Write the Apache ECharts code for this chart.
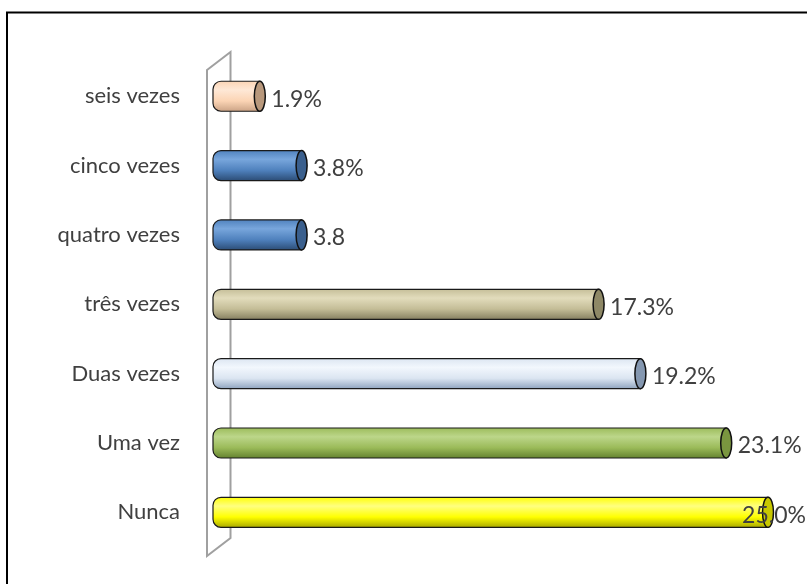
<!DOCTYPE html>
<html>
<head>
    <meta charset="utf-8">
    <title>ECharts</title>
    <script src="https://cdn.jsdelivr.net/npm/echarts@6/dist/echarts.min.js"></script>
</head>
<body style="margin:0;">
    <div id="main" style="width: 807px;height:584px;"></div>
    <script type="text/javascript">
// categories from bottom to top
var categories = ['Nunca', 'Uma vez', 'Duas vezes', 'três vezes', 'quatro vezes', 'cinco vezes', 'seis vezes'];
var values = [25.0, 23.1, 19.2, 17.3, 3.8, 3.8, 1.9];
var valueLabels = ['25.0%', '23.1%', '19.2%', '17.3%', '3.8', '3.8%', '1.9%'];

// cylinder colours: light, mid, dark, cap
var palette = [
    ['#ffff80', '#ffff00', '#a6a600', '#c8c800'],
    ['#bcd68a', '#9bbb59', '#62802e', '#7a963f'],
    ['#f2f7fd', '#dbe5f1', '#8da2bd', '#8497b0'],
    ['#e2dcbc', '#c4bd97', '#847e5f', '#8e8866'],
    ['#78a6dc', '#4f81bd', '#2a4a72', '#3a5f8d'],
    ['#78a6dc', '#4f81bd', '#2a4a72', '#3a5f8d'],
    ['#fee8d6', '#fbd4b4', '#c9a184', '#b8987c']
];

var labelFont = '23px Lato';
var measureCtx = document.createElement('canvas').getContext('2d');
measureCtx.font = labelFont;

var myChart = echarts.init(document.getElementById('main'));

var seriesData = values.map(function (v, i) { return [v, i]; });

function renderCylinder(params, api) {
    var idx = params.dataIndex;
    var val = api.value(0);
    var cat = api.value(1);
    var p0 = api.coord([0, cat]);
    var p1 = api.coord([val, cat]);
    var h = 30;
    var rx = 5.5;
    var c = palette[idx];
    var grad = new echarts.graphic.LinearGradient(0, 0, 0, 1, [
        { offset: 0, color: c[1] },
        { offset: 0.3, color: c[0] },
        { offset: 0.65, color: c[1] },
        { offset: 1, color: c[2] }
    ]);
    var text = valueLabels[idx];
    var tw = measureCtx.measureText(text).width;
    var tx = p1[0] + rx + 6;
    if (tx + tw > api.getWidth()) {
        tx = api.getWidth() - tw - 1;
    }
    return {
        type: 'group',
        children: [{
            type: 'rect',
            shape: { x: p0[0] - 5, y: p0[1] - h / 2, width: p1[0] - p0[0] + 5, height: h, r: [8, 0, 0, 8] },
            style: { fill: grad, stroke: '#1a1a1a', lineWidth: 1.2 }
        }, {
            type: 'ellipse',
            shape: { cx: p1[0], cy: p1[1], rx: rx, ry: h / 2 },
            style: { fill: c[3], stroke: '#111', lineWidth: 1.5 }
        }, {
            type: 'text',
            x: tx,
            y: p1[1] + 3,
            z2: 10,
            style: { text: text, font: labelFont, fill: '#404040', verticalAlign: 'middle', align: 'left' }
        }]
    };
}

var option = {
    backgroundColor: '#ffffff',
    animation: false,
    graphic: [{
        type: 'rect',
        z: -10,
        shape: { x: 7, y: 12.5, width: 900, height: 700 },
        style: { fill: 'none', stroke: '#000', lineWidth: 2 }
    }, {
        type: 'polygon',
        z: -5,
        shape: { points: [[207, 70], [230.5, 52], [230.5, 538], [207, 556]] },
        style: { fill: '#fff', stroke: '#a0a0a0', lineWidth: 2 }
    }],
    grid: {
        left: 218,
        right: 17,
        top: 61.6,
        bottom: 37
    },
    xAxis: {
        type: 'value',
        min: 0,
        max: 26,
        show: false
    },
    yAxis: {
        type: 'category',
        data: categories,
        axisLine: { show: false },
        axisTick: { show: false },
        splitLine: { show: false },
        axisLabel: {
            margin: 38,
            color: '#404040',
            fontFamily: 'Lato',
            fontSize: 22
        }
    },
    series: [{
        type: 'custom',
        renderItem: renderCylinder,
        encode: { x: 0, y: 1 },
        data: seriesData
    }]
};

myChart.setOption(option);
    </script>
</body>
</html>
